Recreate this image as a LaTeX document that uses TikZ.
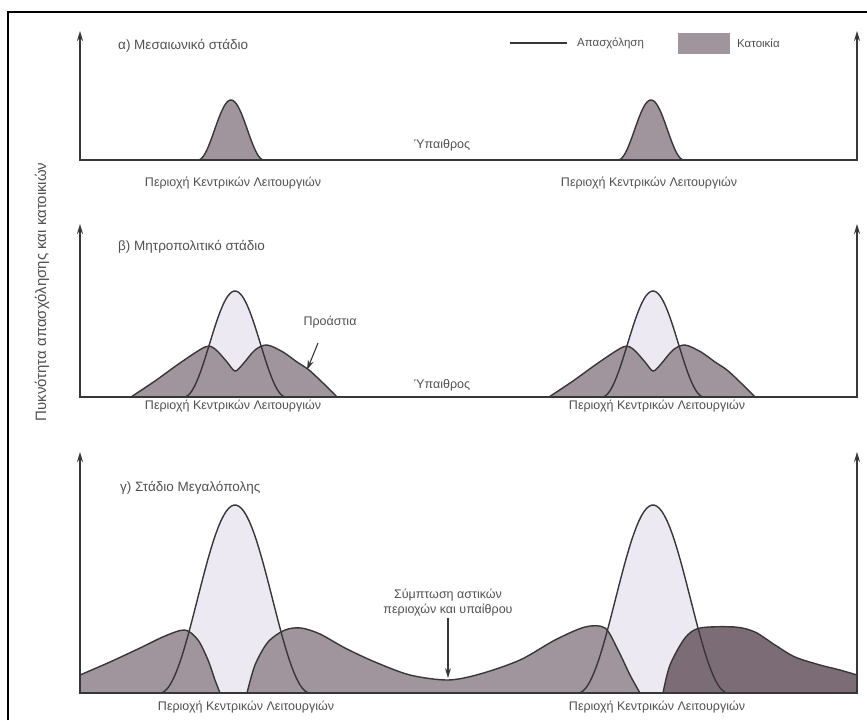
\documentclass[tikz,border=0pt]{standalone}
\usepackage{fontspec}
\setmainfont{Liberation Sans}
\usepackage{tikz}
\usetikzlibrary{arrows.meta}
\definecolor{lineink}{RGB}{55,55,55}
\definecolor{textink}{RGB}{80,80,80}
\definecolor{housegrey}{RGB}{160,148,157}
\definecolor{housedark}{RGB}{124,108,118}
\definecolor{jobslight}{RGB}{236,233,243}
\tikzset{declare function={bell(\t)=0.5+0.5*cos(180*\t);}}

\begin{document}
\begin{tikzpicture}[x=1pt, y=-1pt, >={Stealth[length=10pt, width=6pt]},
  axis/.style={line width=1.6pt, lineink, <->},
  curve/.style={line width=1.4pt, lineink},
  lbl/.style={textink, font=\fontsize{12.5}{15}\selectfont, inner sep=1pt},
  ttl/.style={lbl, font=\fontsize{13.5}{16}\selectfont, anchor=west},
  legtxt/.style={lbl, font=\fontsize{11.5}{14}\selectfont, anchor=west},
  pointer/.style={->, line width=1.1pt, lineink}]
  \useasboundingbox (0,0) rectangle (867,720);
  % outer frame
  \draw[line width=1.5pt, black] (8,720) -- (8,12) -- (867,12);

  % a) medieval stage
  \foreach \c in {231,651} {
    \filldraw[curve, fill=housegrey] plot[domain=-33:33, samples=50] ({\c+\x},{160-60*bell(\x/33)});
  }
  \draw[axis] (80,31) -- (80,160) -- (857,160) -- (857,31);

  % b) metropolitan stage
  \foreach \c in {235,653} {
    \fill[jobslight] plot[domain=-51:51, samples=50] ({\c+\x},{397-106*bell(\x/51)});
    \filldraw[curve, fill=housegrey, shift={(\c,0)}] plot[smooth] coordinates {(-104,397) (-80,381) (-55,363) (-30,347) (-20,349) (-8,362) (0,371) (8,364) (20,350) (32,345) (48,352) (62,362) (74,370) (88,383) (102,397)};
    \draw[curve] plot[domain=-51:51, samples=50] ({\c+\x},{397-106*bell(\x/51)});
  }
  \draw[axis] (80,224) -- (80,397) -- (857,397) -- (857,224);

  % c) megalopolis stage
  \foreach \c in {235,653} {
    \fill[jobslight] plot[domain=-75:75, samples=60] ({\c+\x},{693-188*bell(\x/75)});
  }
  \filldraw[curve, fill=housegrey] plot[smooth] coordinates {(80,675) (110,662) (140,648) (165,636) (185,630) (198,640) (208,660) (215,680) (220,693)} -- (80,693) -- cycle;
  \filldraw[curve, fill=housegrey] plot[smooth] coordinates {(247,693) (255,665) (268,642) (285,630) (301,628) (320,634) (345,648) (375,662) (410,675) (448,680) (480,674) (520,660) (555,640) (585,627) (605,628) (618,650) (630,675) (640,693)} -- cycle;
  \filldraw[curve, fill=housedark] plot[smooth] coordinates {(663,693) (670,665) (685,638) (700,628) (735,627) (755,632) (775,645) (795,657) (820,665) (840,670) (857,675)} -- (857,693) -- cycle;
  \foreach \c in {235,653} {
    \draw[curve] plot[domain=-75:75, samples=60] ({\c+\x},{693-188*bell(\x/75)});
  }
  \draw[axis] (80,452) -- (80,693) -- (857,693) -- (857,452);

  % titles and legend
  \node[ttl] (titleA) at (117,46) {α) Μεσαιωνικό στάδιο};
  \node[ttl] (titleB) at (117,247) {β) Μητροπολιτικό στάδιο};
  \node[ttl] (titleC) at (119,488) {γ) Στάδιο Μεγαλόπολης};
  \draw[curve] (510,43) -- (567,43);
  \node[legtxt] (legJobs) at (576,43) {Απασχόληση};
  \node[fill=housegrey, minimum width=52pt, minimum height=21pt, inner sep=0pt] (legBox) at (704,43) {};
  \node[legtxt] (legHomes) at (736,43) {Κατοικία};
  \node[lbl, rotate=90, font=\fontsize{15}{17}\selectfont] (ylabel) at (42,292) {Πυκνότητα απασχόλησης και κατοικιών};

  % area labels
  \node[lbl] (cbdA1) at (233,183) {Περιοχή Κεντρικών Λειτουργιών};
  \node[lbl] (cbdA2) at (649,183) {Περιοχή Κεντρικών Λειτουργιών};
  \node[lbl] (cbdB1) at (233,406) {Περιοχή Κεντρικών Λειτουργιών};
  \node[lbl] (cbdB2) at (657,406) {Περιοχή Κεντρικών Λειτουργιών};
  \node[lbl] (cbdC1) at (246,707) {Περιοχή Κεντρικών Λειτουργιών};
  \node[lbl] (cbdC2) at (657,707) {Περιοχή Κεντρικών Λειτουργιών};
  \node[lbl] (ruralA) at (442,145) {Ύπαιθρος};
  \node[lbl] (ruralB) at (442,385) {Ύπαιθρος};

  % pointers
  \node[lbl] (suburbs) at (330,322) {Προάστια};
  \coordinate (suburbTail) at (318,343);
  \coordinate (suburbEdge) at (307,370);
  \draw[pointer] (suburbTail) -- (suburbEdge);
  \node[lbl, align=center] (overlap) at (448,603) {Σύμπτωση αστικών\\περιοχών και υπαίθρου};
  \coordinate (overlapDip) at (448,678);
  \draw[pointer] (overlap.south) -- (overlapDip);
\end{tikzpicture}
\end{document}
